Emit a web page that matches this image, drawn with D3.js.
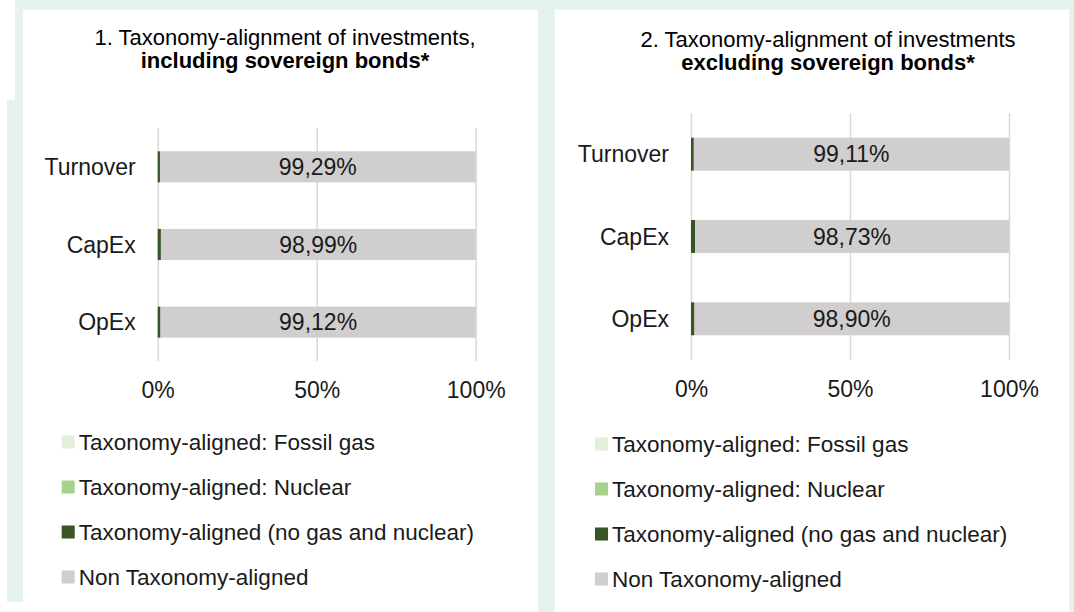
<!DOCTYPE html>
<meta charset="utf-8">
<style>
    body { margin: 0; background: #fff; }
    svg { display: block; font-family: "Liberation Sans", Arial, sans-serif; }
</style>
<body>
<div class="container"></div>
<script src="https://cdnjs.cloudflare.com/ajax/libs/d3/7.8.5/d3.min.js"></script>
<script>

// data
const categories = ['Turnover', 'CapEx', 'OpEx'];
const seriesNames = [
    'Taxonomy-aligned: Fossil gas',
    'Taxonomy-aligned: Nuclear',
    'Taxonomy-aligned (no gas and nuclear)',
    'Non Taxonomy-aligned'
];
const seriesColors = ['#e2efda', '#a9d18e', '#375623', '#d0cece'];
const tickValues = [0, 50, 100];

// 1. including sovereign bonds
const gasIncl = [0, 0, 0];
const nuclearIncl = [0, 0, 0];
const alignedIncl = [0.71, 1.01, 0.88];
const nonAlignedIncl = [99.29, 98.99, 99.12];

// 2. excluding sovereign bonds
const gasExcl = [0, 0, 0];
const nuclearExcl = [0, 0, 0];
const alignedExcl = [0.89, 1.27, 1.10];
const nonAlignedExcl = [99.11, 98.73, 98.90];

const width = 1074;
const height = 612;
const mint = '#e4f3ee';

const svg = d3.select('.container')
    .append('svg')
    .attr('width', width)
    .attr('height', height);

// background frame
svg.append('rect').attr('x', 15).attr('y', 0).attr('width', width - 15).attr('height', height).attr('fill', mint);
svg.append('rect').attr('x', 7).attr('y', 100).attr('width', 10).attr('height', 502).attr('fill', mint);
svg.append('rect').attr('x', 0).attr('y', 602).attr('width', 538).attr('height', 10).attr('fill', '#fff');
svg.append('rect').attr('x', 23).attr('y', 10).attr('width', 515).attr('height', 602).attr('fill', '#fff');
svg.append('rect').attr('x', 555).attr('y', 10).attr('width', 514).attr('height', 602).attr('fill', '#fff');

const panels = [
    { title1: '1. Taxonomy-alignment of investments,', title2: 'including sovereign bonds*',
      tx: 285, ty: 45, x0: 157.7, x1: 475.7, top: 128, bottom: 361, legendY: 442,
      values: [gasIncl, nuclearIncl, alignedIncl, nonAlignedIncl] },
    { title1: '2. Taxonomy-alignment of investments', title2: 'excluding sovereign bonds*',
      tx: 828, ty: 47, x0: 691, x1: 1009, top: 113, bottom: 360, legendY: 444,
      values: [gasExcl, nuclearExcl, alignedExcl, nonAlignedExcl] }
];

const fmt = v => v.toFixed(2).replace('.', ',') + '%';

panels.forEach(p => {
    const g = svg.append('g');

    g.append('text')
        .attr('x', p.tx).attr('y', p.ty)
        .attr('text-anchor', 'middle')
        .style('font-size', '22px').style('fill', '#000')
        .text(p.title1);
    g.append('text')
        .attr('x', p.tx).attr('y', p.ty + 23)
        .attr('text-anchor', 'middle')
        .style('font-size', '22px').style('font-weight', 'bold').style('fill', '#000')
        .text(p.title2);

    const x = d3.scaleLinear().domain([0, 100]).range([p.x0, p.x1]);
    const y = d3.scaleBand().domain(categories).range([p.top, p.bottom])
        .paddingInner(0.6).paddingOuter(0.3);

    // gridlines + tick labels
    const axis = g.append('g')
        .attr('transform', `translate(0,${p.bottom})`)
        .call(d3.axisBottom(x).tickValues(tickValues).tickFormat(d => d + '%')
            .tickSize(-(p.bottom - p.top)).tickPadding(21));
    axis.select('.domain').remove();
    axis.selectAll('line').attr('stroke', '#d9d9d9').attr('stroke-width', 1.5);
    axis.selectAll('text').style('font-size', '23px').style('fill', '#1a1a1a')
        .style('font-family', '"Liberation Sans", Arial, sans-serif');

    // stacked rows
    const rows = categories.map((c, i) => {
        const r = { cat: c };
        seriesNames.forEach((s, k) => { r[s] = p.values[k][i]; });
        return r;
    });
    const stacked = d3.stack().keys(seriesNames)(rows);

    g.selectAll('g.layer')
        .data(stacked)
        .enter().append('g')
        .attr('class', 'layer')
        .attr('fill', (d, i) => seriesColors[i])
        .selectAll('rect')
        .data(d => d)
        .enter().append('rect')
        .attr('x', d => x(d[0]))
        .attr('y', d => y(d.data.cat))
        .attr('width', d => x(d[1]) - x(d[0]))
        .attr('height', y.bandwidth());

    // value labels on non-aligned part
    const last = stacked[stacked.length - 1];
    g.selectAll('text.val')
        .data(last)
        .enter().append('text')
        .attr('class', 'val')
        .attr('x', d => x((d[0] + d[1]) / 2))
        .attr('y', d => y(d.data.cat) + y.bandwidth() / 2)
        .attr('dy', '0.35em')
        .attr('text-anchor', 'middle')
        .style('font-size', '23px').style('fill', '#1a1a1a')
        .text(d => fmt(d[1] - d[0]));

    // category labels
    g.selectAll('text.cat')
        .data(categories)
        .enter().append('text')
        .attr('class', 'cat')
        .attr('x', p.x0 - 22)
        .attr('y', d => y(d) + y.bandwidth() / 2)
        .attr('dy', '0.35em')
        .attr('text-anchor', 'end')
        .style('font-size', '23px').style('fill', '#1a1a1a')
        .text(d => d);

    // legend
    const leg = g.selectAll('g.leg')
        .data(seriesNames)
        .enter().append('g')
        .attr('class', 'leg')
        .attr('transform', (d, i) => `translate(${p.x0 - 96},${p.legendY + i * 45})`);
    leg.append('rect')
        .attr('x', 0).attr('y', -6.5)
        .attr('width', 13).attr('height', 13)
        .attr('fill', (d, i) => seriesColors[i]);
    leg.append('text')
        .attr('x', 17).attr('dy', '0.35em')
        .style('font-size', '22.5px').style('fill', '#1a1a1a')
        .text(d => d);
});

</script>
</body>
